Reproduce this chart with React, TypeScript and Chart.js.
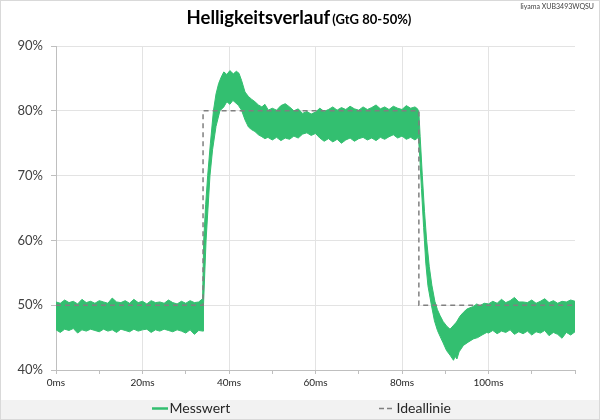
import { useEffect, useRef } from "react";
import { Chart, registerables } from "chart.js";

Chart.register(...registerables);

// ---- data ----
const titleMain = "Helligkeitsverlauf";
const titleSub = "(GtG 80-50%)";
const deviceLabel = "Iiyama XUB3493WQSU";
const seriesLabels = ["Messwert", "Ideallinie"];

// upper envelope of the measured (noisy) trace, ms / %
const upperTimes = [
  0, 1, 2, 3, 4, 5, 6, 7, 8, 9, 10, 11, 12, 13, 14, 15, 16, 17, 18, 19, 20, 21, 22, 23, 24, 25, 26, 27, 28, 29, 30, 31, 32, 33, 33.9,
  34.15, 34.6, 35.07, 35.7, 36.4, 37.0, 37.6, 38.2, 38.8, 39.5, 40.2, 41.0, 41.7, 42.3, 42.9, 43.7, 44.5, 45.2, 46.0, 46.8, 47.6, 48.3, 49.1,
  50, 51, 52, 53, 54, 55, 56, 57, 58, 59, 60, 61, 62, 63, 64, 65, 66, 67, 68, 69, 70, 71, 72, 73, 74, 75, 76, 77, 78, 79, 80, 81, 82, 83, 83.6, 83.9,
  84.2, 84.7, 85.2, 85.7, 86.3, 86.9, 87.6, 88.2, 88.8, 89.5, 90.3, 91.1, 91.8, 92.6, 93.4, 94.2, 95.0, 95.7, 96.5, 97.3, 98.0, 99.0,
  100, 101, 102, 103, 104, 105, 106, 107, 108, 109, 110, 111, 112, 113, 114, 115, 116, 117, 118, 119, 120,
];
const upperValues = [
  50.5, 50.3, 50.8, 50.4, 50.6, 50.2, 50.9, 50.4, 50.6, 50.3, 50.7, 50.5, 50.3, 51.1, 50.5, 50.4, 50.7, 50.3, 50.9, 50.4, 50.6, 50.2, 50.7, 50.4, 50.5, 50.3, 50.8, 50.4, 50.2, 50.6, 50.3, 50.7, 50.4, 50.5, 51.0,
  60, 65.5, 70, 75, 80, 82.6, 84.2, 85.2, 86.0, 85.6, 86.2, 85.7, 86.1, 85.8, 84.7, 82.9, 82.2, 81.8, 81.4, 80.9, 80.6, 81.0, 80.1,
  80.4, 80.1, 80.8, 81.1, 80.6, 80.0, 80.3, 79.6, 79.9, 79.5, 79.8, 80.4, 79.9, 80.2, 80.6, 80.1, 80.5, 80.2, 80.7, 80.3, 80.1, 80.6, 80.2, 80.5, 80.9, 80.3, 80.6, 80.2, 80.7, 80.4, 80.2, 80.8, 80.4, 80.6, 80.3, 79.8,
  76, 70, 64.5, 60, 56, 53.1, 50.6, 49.3, 48.4, 47.5, 46.8, 46.3, 46.8, 47.4, 48.3, 48.9, 49.4, 49.6, 49.8, 50.2, 49.9, 50.3,
  50.2, 50.6, 50.3, 50.9, 50.4, 50.7, 51.2, 50.5, 50.5, 50.4, 50.8, 50.3, 50.6, 51.0, 50.4, 50.7, 50.3, 50.6, 50.5, 50.8, 50.6,
];

// lower envelope of the measured trace
const lowerTimes = [
  0, 1, 2, 3, 4, 5, 6, 7, 8, 9, 10, 11, 12, 13, 14, 15, 16, 17, 18, 19, 20, 21, 22, 23, 24, 25, 26, 27, 28, 29, 30, 31, 32, 33, 34.0,
  34.1, 34.7, 35.6, 36.2, 37.0, 37.9, 38.8, 39.5, 40.2, 40.9, 41.6, 42.2, 42.9, 43.7, 44.5, 45.2, 46.0, 46.8, 47.6, 48.3,
  49, 50, 51, 52, 53, 54, 55, 56, 57, 58, 59, 60, 61, 62, 63, 64, 65, 66, 67, 68, 69, 70, 71, 72, 73, 74, 75, 76, 77, 78, 79, 80, 81, 82, 83, 83.8,
  84.1, 84.5, 85.0, 85.5, 86.0, 86.8, 87.5, 88.2, 88.8, 89.5, 90.3, 91.1, 91.9, 92.3, 92.7, 93.2, 94.2, 95.3, 96.5, 97.5, 98.5, 99.6,
  100, 101, 102, 103, 104, 105, 106, 107, 108, 109, 110, 111, 112, 113, 114, 115, 116, 117, 118, 119, 120,
];
const lowerValues = [
  46.2, 45.8, 46.3, 46.1, 46.4, 45.7, 46.2, 46.0, 46.3, 46.1, 45.9, 46.3, 46.0, 46.2, 45.8, 46.3, 46.1, 45.9, 46.3, 46.0, 46.2, 46.3, 45.8, 46.2, 46.0, 46.3, 46.1, 45.9, 46.2, 46.0, 45.7, 46.2, 45.5, 46.1, 46.0,
  50, 60, 70, 74, 77.6, 80, 80.6, 81.4, 81.0, 81.6, 81.2, 80.8, 80.1, 78.6, 77.5, 77.1, 76.8, 76.3, 76.0, 75.7,
  75.9, 75.5, 75.9, 75.4, 75.8, 75.6, 76.1, 75.8, 76.4, 76.6, 76.2, 76.5, 75.8, 75.3, 75.7, 75.2, 75.6, 75.0, 75.5, 75.8, 75.3, 75.7, 75.9, 75.5, 75.8, 75.4, 75.9, 75.6, 76.0, 76.3, 75.8, 76.1, 75.6, 75.9, 75.5, 75.9,
  73, 68, 62, 56.5, 53, 50, 47.6, 46.1, 45.2, 44.2, 43.0, 42.3, 41.5, 42.1, 41.7, 42.8, 43.8, 44.3, 44.8, 45.0, 45.4, 45.8,
  45.7, 46.1, 45.6, 46.0, 45.8, 46.2, 45.5, 45.9, 45.6, 46.0, 45.4, 45.9, 45.7, 46.1, 45.3, 45.8, 45.5, 44.9, 45.8, 45.4, 45.9,
];

// ideal step response
const idealTimes = [0, 34, 34, 83.9, 83.9, 120];
const idealValues = [50, 50, 80, 80, 50, 50];

// axes
const xMin = 0;
const xMax = 120;
const xStep = 10;
const xLabelEvery = 20;
const yMin = 40;
const yMax = 90;
const yStep = 10;

// ---- styling ----
const GREEN = "#33BF70";
const IDEAL = "#808080";
const FONT = "Lato, 'Open Sans', sans-serif";

const pts = (ts: number[], vs: number[]) => ts.map((t, i) => ({ x: t, y: vs[i] }));

const decorPlugin = {
  id: "decor",
  beforeDraw(chart: any) {
    const { ctx, width, height } = chart;
    ctx.save();
    ctx.fillStyle = "#ffffff";
    ctx.fillRect(0, 0, width, height);
    ctx.restore();
  },
  afterDraw(chart: any) {
    const { ctx, width, height } = chart;
    ctx.save();
    // title
    ctx.textBaseline = "alphabetic";
    ctx.textAlign = "left";
    ctx.fillStyle = "#000000";
    ctx.font = `bold 18.5px ${FONT}`;
    const w1 = ctx.measureText(titleMain).width;
    ctx.font = `bold 13px ${FONT}`;
    const w2 = ctx.measureText(titleSub).width;
    const gap = 2;
    const x0 = 299 - (w1 + gap + w2) / 2;
    ctx.font = `bold 18.5px ${FONT}`;
    ctx.fillText(titleMain, x0, 24);
    ctx.font = `bold 13px ${FONT}`;
    ctx.fillText(titleSub, x0 + w1 + gap, 24);
    // device label
    ctx.font = `7px ${FONT}`;
    ctx.fillStyle = "#404040";
    ctx.textAlign = "right";
    ctx.fillText(deviceLabel, 594, 9);
    // legend band
    ctx.textAlign = "left";
    ctx.fillStyle = "#f2f2f2";
    ctx.fillRect(1, 400, width - 2, height - 401);
    const ly = 408.5;
    ctx.strokeStyle = GREEN;
    ctx.lineWidth = 2.5;
    ctx.beginPath();
    ctx.moveTo(152, ly);
    ctx.lineTo(168, ly);
    ctx.stroke();
    ctx.strokeStyle = IDEAL;
    ctx.lineWidth = 1.5;
    ctx.setLineDash([5, 3]);
    ctx.beginPath();
    ctx.moveTo(379, ly);
    ctx.lineTo(393, ly);
    ctx.stroke();
    ctx.setLineDash([]);
    ctx.fillStyle = "#262626";
    ctx.font = `14px ${FONT}`;
    ctx.textBaseline = "middle";
    ctx.fillText(chart.data.datasets[1].label, 169.5, ly);
    ctx.fillText(chart.data.datasets[0].label, 396.5, ly);
    // outer frame
    ctx.strokeStyle = "#d9d9d9";
    ctx.lineWidth = 1;
    ctx.strokeRect(0.5, 0.5, width - 1, height - 1);
    ctx.restore();
  },
};

export default function App() {
  const ref = useRef<HTMLCanvasElement>(null);
  useEffect(() => {
    let chart: Chart | null = null;
    let cancelled = false;
    const make = () => {
      if (cancelled || !ref.current) return;
      chart = new Chart(ref.current, {
        type: "line",
        data: {
          datasets: [
            {
              label: seriesLabels[1],
              data: pts(idealTimes, idealValues),
              borderColor: IDEAL,
              borderWidth: 1.5,
              borderDash: [5, 4],
              pointRadius: 0,
              fill: false,
              order: 0,
            },
            {
              label: seriesLabels[0],
              data: pts(upperTimes, upperValues),
              borderColor: GREEN,
              backgroundColor: GREEN,
              borderWidth: 1,
              pointRadius: 0,
              fill: "+1",
              order: 1,
            },
            {
              label: "",
              data: pts(lowerTimes, lowerValues),
              borderColor: GREEN,
              borderWidth: 1,
              pointRadius: 0,
              fill: false,
              order: 2,
            },
          ],
        },
        options: {
          responsive: false,
          animation: false,
          events: [],
          layout: { padding: { left: 0, right: 25, top: 46, bottom: 20 } },
          plugins: {
            legend: { display: false },
            tooltip: { enabled: false },
            title: { display: false },
          },
          scales: {
            x: {
              type: "linear",
              min: xMin,
              max: xMax,
              afterFit: (s: any) => {
                s.height = 30;
              },
              border: { color: "#bfbfbf", width: 1 },
              grid: {
                color: (c: any) =>
                  c.tick && c.tick.value % xLabelEvery === 0 && c.tick.value > xMin && c.tick.value < xMax
                    ? "#e3e3e3"
                    : "rgba(0,0,0,0)",
                tickColor: "#bfbfbf",
                tickLength: 4,
                drawTicks: true,
              },
              ticks: {
                stepSize: xStep,
                autoSkip: false,
                maxRotation: 0,
                padding: 3,
                color: "#262626",
                font: { family: FONT, size: 10 },
                callback: (v: any) => (Number(v) % xLabelEvery === 0 && Number(v) < xMax ? `${v}ms` : ""),
              },
            },
            y: {
              min: yMin,
              max: yMax,
              afterFit: (s: any) => {
                s.width = 56;
              },
              border: { color: "#bfbfbf", width: 1 },
              grid: {
                color: "#e3e3e3",
                tickColor: "#bfbfbf",
                tickLength: 5,
              },
              ticks: {
                stepSize: yStep,
                padding: 8,
                color: "#404040",
                font: { family: FONT, size: 13 },
                callback: (v: any) => `${v}%`,
              },
            },
          },
        },
        plugins: [decorPlugin],
      } as any);
    };
    const fontsReady = (document as any).fonts
      ? Promise.all([
          (document as any).fonts.load(`12px Lato`),
          (document as any).fonts.load(`bold 12px Lato`),
        ]).catch(() => null)
      : Promise.resolve(null);
    fontsReady.then(make);
    return () => {
      cancelled = true;
      if (chart) chart.destroy();
    };
  }, []);
  return (
    <div style={{ position: "fixed", left: 0, top: 0, width: 600, height: 420, background: "#fff" }}>
      <canvas ref={ref} width={600} height={420} style={{ display: "block", width: 600, height: 420 }} />
    </div>
  );
}
